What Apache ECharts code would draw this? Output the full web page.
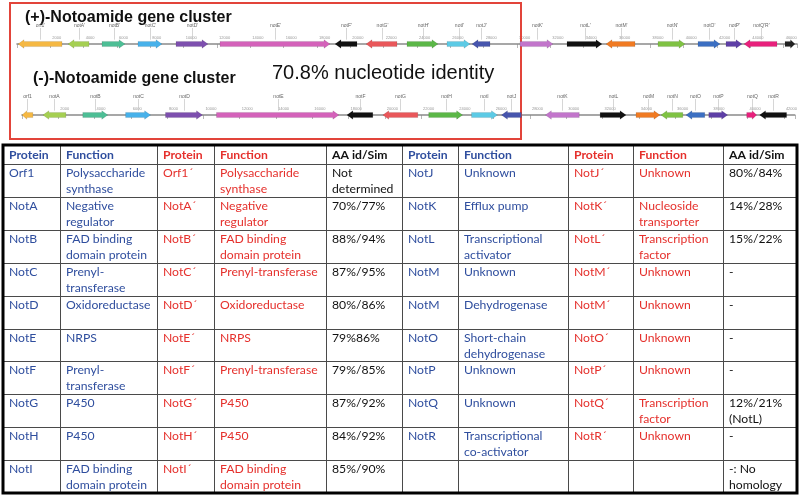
<!DOCTYPE html>
<html><head><meta charset="utf-8">
<script src="https://cdn.jsdelivr.net/npm/echarts@6/dist/echarts.min.js"></script>
<style>html,body{margin:0;padding:0;background:#fff}#c{width:800px;height:496px}</style>
</head><body><div id="c"></div>
<script>
// ================= DATA =================
// (+)-notoamide cluster genes (bp)
const plusNames  = ["orf1'","notA'","notB'","notC'","notD'","notE'","notF'","notG'","notH'","notI'","notJ'","notK'","notL'","notM'","notN'","notO'","notP'","notQ'R'",""];
const plusStart  = [60, 3060, 5100, 7260, 9540, 12180, 19080, 20940, 23400, 25800, 27300, 30180, 33000, 35340, 38460, 40860, 42540, 43620, 46080];
const plusEnd    = [2700, 4320, 6480, 8700, 11460, 18780, 20400, 22800, 25260, 27180, 28380, 32160, 35100, 37080, 40080, 42180, 43500, 45600, 46680];
const plusStrand = [-1, -1, 1, 1, 1, 1, -1, -1, 1, 1, -1, 1, 1, -1, 1, 1, 1, -1, 1];
// (-)-notoamide cluster genes (bp)
const minusNames  = ["orf1","notA","notB","notC","notD","notE","notF","notG","notH","notI","notJ","notK","notL","notM","notN","notO","notP","notQ","notR"];
const minusStart  = [0, 1150, 3350, 5710, 7910, 10720, 17910, 19890, 22420, 24780, 26430, 28850, 31870, 33850, 35220, 36600, 37860, 39950, 40660];
const minusEnd    = [600, 2420, 4730, 7090, 9950, 17470, 19340, 21820, 24290, 26210, 27530, 30720, 33300, 35170, 36430, 37640, 38900, 40500, 42150];
const minusStrand = [-1, -1, 1, 1, 1, 1, -1, -1, 1, 1, -1, -1, 1, 1, -1, -1, 1, 1, -1];
const tickStep = 2000;

// Table
const headerLabels = ["Protein","Function","Protein","Function","AA id/Sim"];
const leftProtein   = ["Orf1","NotA","NotB","NotC","NotD","NotE","NotF","NotG","NotH","NotI"];
const leftFunction  = ["Polysaccharide\nsynthase","Negative\nregulator","FAD binding\ndomain protein","Prenyl-\ntransferase","Oxidoreductase","NRPS","Prenyl-\ntransferase","P450","P450","FAD binding\ndomain protein"];
const leftProteinM  = ["Orf1´","NotA´","NotB´","NotC´","NotD´","NotE´","NotF´","NotG´","NotH´","NotI´"];
const leftFunctionM = ["Polysaccharide\nsynthase","Negative\nregulator","FAD binding\ndomain protein","Prenyl-transferase","Oxidoreductase","NRPS","Prenyl-transferase","P450","P450","FAD binding\ndomain protein"];
const leftIdentity  = ["Not\ndetermined","70%/77%","88%/94%","87%/95%","80%/86%","79%86%","79%/85%","87%/92%","84%/92%","85%/90%"];
const rightProtein   = ["NotJ","NotK","NotL","NotM","NotM","NotO","NotP","NotQ","NotR",""];
const rightFunction  = ["Unknown","Efflux pump","Transcriptional\nactivator","Unknown","Dehydrogenase","Short-chain\ndehydrogenase","Unknown","Unknown","Transcriptional\nco-activator",""];
const rightProteinM  = ["NotJ´","NotK´","NotL´","NotM´","NotM´","NotO´","NotP´","NotQ´","NotR´",""];
const rightFunctionM = ["Unknown","Nucleoside\ntransporter","Transcription\nfactor","Unknown","Unknown","Unknown","Unknown","Transcription\nfactor","Unknown",""];
const rightIdentity  = ["80%/84%","14%/28%","15%/22%","-","-","-","-","12%/21%\n(NotL)","-","-: No\nhomology"];

// ================= STYLE / LAYOUT =================
const plusColors  = ['#f5b843','#a5cf52','#4dbe95','#47b1ea','#7d4fae','#d462ba','#111111','#e9575a','#5bb747','#5ccae5','#4755ad','#c275cb','#111111','#f07a22','#7fc243','#3b6fc2','#5e3fa6','#e8207c','#222222'];
const minusColors = ['#f5b843','#a5cf52','#4dbe95','#47b1ea','#7d4fae','#d462ba','#111111','#e9575a','#5bb747','#5ccae5','#4755ad','#c275cb','#111111','#f07a22','#7fc243','#3b6fc2','#5e3fa6','#e8207c','#111111'];
const BLUE = '#2f4e9e', RED = '#e5302c', BLACK = '#111';
const colColors = [BLUE, BLUE, RED, RED, BLACK, BLUE, BLUE, RED, RED, BLACK];
const colEdges = [0, 57, 154, 211, 323, 399, 455, 565, 630, 720, 794];
const rowEdges = [0, 19];
for (let i = 0; i < 10; i++) rowEdges.push(19 + 32.9 * (i + 1));
const FONT = 'Lato, "Open Sans", sans-serif';

// Build table cells
const cells = [];
headerLabels.concat(headerLabels).forEach((t, c) => cells.push({c, r: 0, t, bold: true}));
const colsData = [leftProtein, leftFunction, leftProteinM, leftFunctionM, leftIdentity,
                  rightProtein, rightFunction, rightProteinM, rightFunctionM, rightIdentity];
for (let r = 0; r < 10; r++) for (let c = 0; c < 10; c++) cells.push({c, r: r + 1, t: colsData[c][r], bold: false});

function geneSeries(names, starts, ends, strands, colors, gridIndex) {
  return {
    type: 'custom', xAxisIndex: gridIndex, yAxisIndex: gridIndex, clip: false,
    data: starts.map((s, i) => [s, ends[i], strands[i], i]),
    encode: {x: [0, 1], y: -1},
    renderItem: function (params, api) {
      const s = api.value(0), e = api.value(1), dir = api.value(2), idx = api.value(3);
      const p1 = api.coord([s, 0]), p2 = api.coord([e, 0]);
      const y = p1[1], x1 = p1[0], x2 = p2[0];
      const axisY = y - 10;
      const h = Math.min(6, (x2 - x1) * 0.45), bh = 2.6, hh = 4.3;
      let pts;
      if (dir > 0) pts = [[x1, y - bh], [x2 - h, y - bh], [x2 - h, y - hh], [x2, y], [x2 - h, y + hh], [x2 - h, y + bh], [x1, y + bh]];
      else pts = [[x2, y - bh], [x1 + h, y - bh], [x1 + h, y - hh], [x1, y], [x1 + h, y + hh], [x1 + h, y + bh], [x2, y + bh]];
      const children = [{type: 'polygon', shape: {points: pts}, style: {fill: colors[idx], stroke: 'rgba(0,0,0,0.25)', lineWidth: 0.4}}];
      const nm = names[idx];
      if (nm) {
        const xm = Math.round((x1 + x2) / 2) + 0.5;
        children.push({type: 'line', shape: {x1: xm, y1: axisY - 6, x2: xm, y2: y - hh}, style: {stroke: '#bbb', lineWidth: 0.6}});
        children.push({type: 'text', x: xm, y: axisY - 8, style: {text: nm, fill: '#666', font: '5px Arial, sans-serif', textAlign: 'center', textVerticalAlign: 'middle'}});
      }
      return {type: 'group', children};
    }
  };
}

function trackAxis(gridIndex, max) {
  return {
    type: 'value', gridIndex, min: 0, max, interval: tickStep, position: 'top',
    axisLine: {show: true, lineStyle: {color: '#8a8a8a', width: 1.6}},
    axisTick: {show: true, inside: true, length: 4, lineStyle: {color: '#888', width: 0.6}},
    axisLabel: {show: true, inside: true, margin: 1.5, fontSize: 4, color: '#999', align: 'left', padding: [0, 0, 0, 2],
      formatter: v => (v > 0 && v % tickStep === 0) ? String(v) : ''},
    splitLine: {show: false}
  };
}

const chart = echarts.init(document.getElementById('c'), null, {renderer: 'canvas'});
chart.setOption({
  animation: false,
  backgroundColor: '#fff',
  graphic: [
    {type: 'rect', shape: {x: 10, y: 3, width: 511, height: 136}, style: {fill: 'none', stroke: '#e2443a', lineWidth: 2}, z: 1},
    {type: 'text', x: 25, y: 17.5, style: {text: '(+)-Notoamide gene cluster', font: 'bold 16px "Liberation Sans", Arial, sans-serif', fill: '#111', textVerticalAlign: 'middle'}},
    {type: 'text', x: 33, y: 79, style: {text: '(-)-Notoamide gene cluster', font: 'bold 16px "Liberation Sans", Arial, sans-serif', fill: '#111', textVerticalAlign: 'middle'}},
    {type: 'text', x: 272, y: 73.5, style: {text: '70.8% nucleotide identity', font: '20px "Liberation Sans", Arial, sans-serif', fill: '#111', textVerticalAlign: 'middle'}}
  ],
  grid: [
    {left: 17, width: 780, top: 34, height: 20},
    {left: 22, width: 775, top: 105, height: 20},
    {left: 3, width: 794, top: 145, height: 348, show: true, borderColor: '#000', borderWidth: 3, backgroundColor: 'transparent', z: 5}
  ],
  xAxis: [
    trackAxis(0, 46800),
    trackAxis(1, 42600),
    {type: 'value', gridIndex: 2, min: 0, max: 794, show: false}
  ],
  yAxis: [
    {type: 'value', gridIndex: 0, min: -1, max: 1, show: false},
    {type: 'value', gridIndex: 1, min: -1, max: 1, show: false},
    {type: 'value', gridIndex: 2, min: 0, max: 348, inverse: true, show: false}
  ],
  series: [
    geneSeries(plusNames, plusStart, plusEnd, plusStrand, plusColors, 0),
    geneSeries(minusNames, minusStart, minusEnd, minusStrand, minusColors, 1),
    {
      type: 'custom', xAxisIndex: 2, yAxisIndex: 2, z: 2, clip: false,
      data: cells.map((cl, i) => [cl.c, cl.r, i]),
      encode: {x: 0, y: 1},
      renderItem: function (params, api) {
        const cl = cells[api.value(2)];
        const a = api.coord([colEdges[cl.c], rowEdges[cl.r]]);
        const b = api.coord([colEdges[cl.c + 1], rowEdges[cl.r + 1]]);
        const x1 = Math.round(a[0]) + 0.5, y1 = Math.round(a[1]) + 0.5;
        const x2 = Math.round(b[0]) + 0.5, y2 = Math.round(b[1]) + 0.5;
        const children = [{type: 'rect', shape: {x: x1, y: y1, width: x2 - x1, height: y2 - y1}, style: {fill: 'none', stroke: '#4a4a4a', lineWidth: 1}}];
        if (cl.t) {
          children.push({type: 'text', x: x1 + 5.5, y: cl.bold ? (y1 + y2) / 2 + 0.5 : y1 + 0.5,
            style: {text: cl.t, fill: colColors[cl.c], font: (cl.bold ? 'bold ' : '') + '12.2px ' + FONT,
              textAlign: 'left', textVerticalAlign: cl.bold ? 'middle' : 'top', lineHeight: 16.3}});
        }
        return {type: 'group', children};
      }
    }
  ]
});
</script></body></html>
